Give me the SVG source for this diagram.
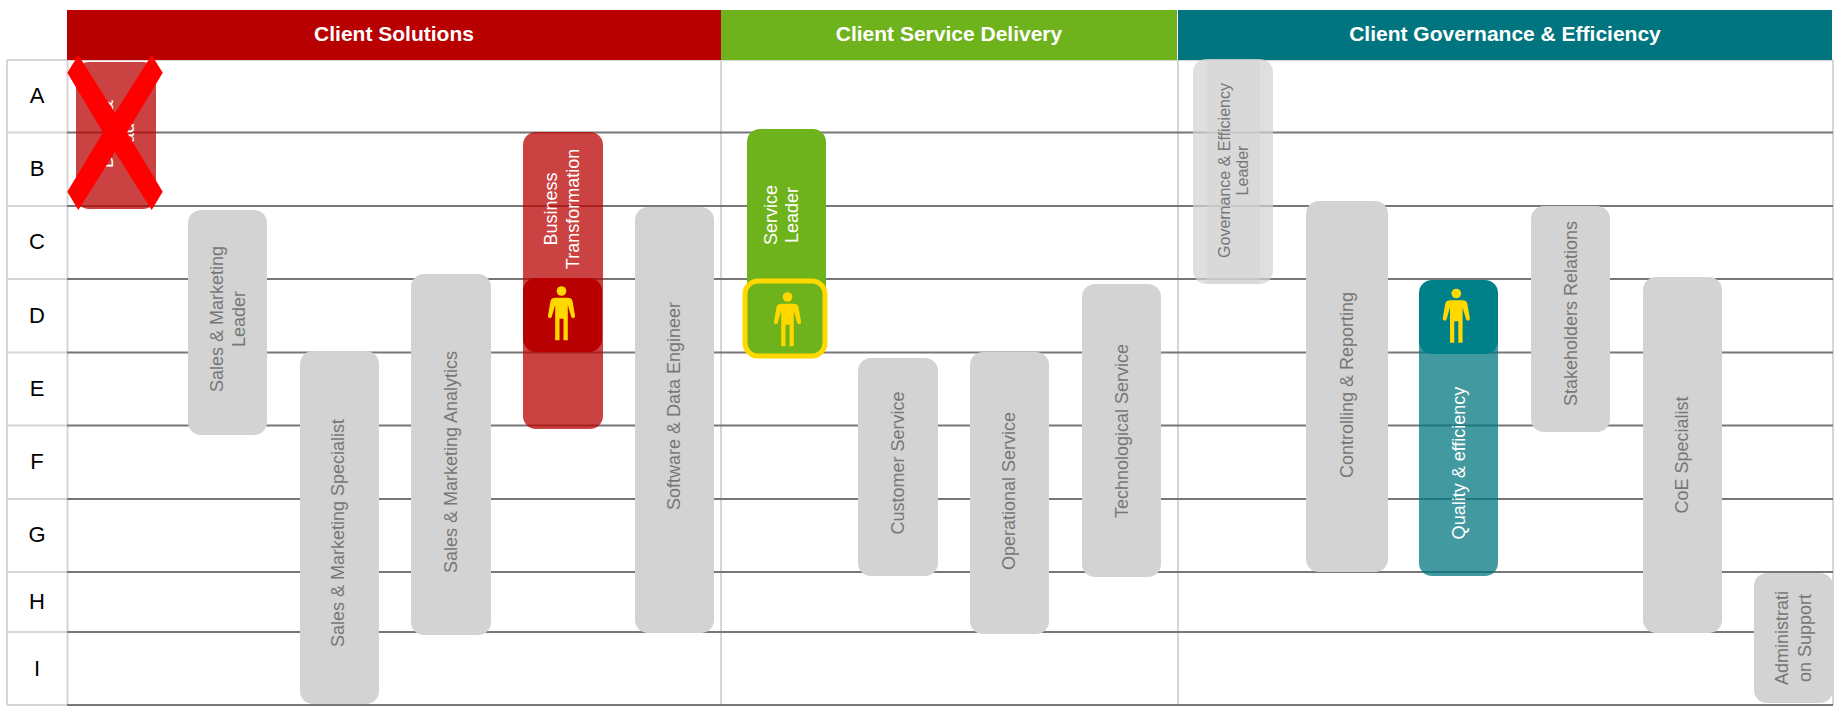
<svg xmlns="http://www.w3.org/2000/svg" width="1844" height="714" viewBox="0 0 1844 714">
<style>
text { font-family: "Liberation Sans", Arial, sans-serif; }
.head { fill: #fff; font-size: 21px; font-weight: 700; text-anchor: middle; }
.row { fill: #000; font-size: 22px; text-anchor: middle; }
.rule { stroke: #777; stroke-width: 2; }
.edge { stroke: #d6d6d6; stroke-width: 2; fill: none; }
.role { fill: #d3d3d3; }
.lbl { fill: #777; font-size: 18px; text-anchor: middle; }
.lblw { fill: #fff; font-size: 18px; text-anchor: middle; }
.fig { fill: #ffd800; }
</style>
<defs>
<g id="person">
<circle cx="0" cy="0" r="4.8"/>
<path d="M-6,6.7H6Q10,6.7 11,10L13.6,25a2,2 0 0 1-3.8,1L6.3,14V49.3H2V27.7H-2V49.3H-6.3V14L-9.8,26a2,2 0 0 1-3.8,-1L-11,10Q-10,6.7 -6,6.7Z"/>
</g>
</defs>
<rect width="1844" height="714" fill="#fff"/>

<g id="grid">
<path class="edge" d="M7 60H1833M7 132.5H67M7 206H67M7 279H67M7 352.5H67M7 425.5H67M7 499H67M7 572H67M7 632H67M7 705H67M7 60V705M67.5 60V705M721 60V705M1178 60V705M1833 60V705"/>
<path class="rule" d="M67 132.5H1833M67 206H1833M67 279H1833M67 352.5H1833M67 425.5H1833M67 499H1833M67 572H1833M67 632H1833M67 705H1833"/>
</g>

<g id="row-labels">
<text class="row" x="37" y="103">A</text>
<text class="row" x="37" y="176">B</text>
<text class="row" x="37" y="249">C</text>
<text class="row" x="37" y="323">D</text>
<text class="row" x="37" y="396">E</text>
<text class="row" x="37" y="469">F</text>
<text class="row" x="37" y="542">G</text>
<text class="row" x="37" y="609">H</text>
<text class="row" x="37" y="676">I</text>
</g>

<g id="header-solutions"><rect x="67" y="10" width="654" height="50" fill="#b80000"/><text class="head" x="394" y="41">Client Solutions</text></g>
<g id="header-delivery"><rect x="721" y="10" width="456" height="50" fill="#6eb21c"/><text class="head" x="949" y="41">Client Service Delivery</text></g>
<g id="header-governance"><rect x="1178" y="10" width="654" height="50" fill="#00757f"/><text class="head" x="1505" y="41">Client Governance &amp; Efficiency</text></g>

<g id="struck-leader">
<rect x="76" y="62" width="80" height="147" rx="13" fill="#b80000" fill-opacity=".74"/>
<text class="lblw" style="text-anchor:start" transform="translate(134 168) rotate(-90)" y="-21">D<tspan dx="43">&amp;</tspan></text>
<text class="lblw" transform="translate(115 135) rotate(-90)" y="19">Leader</text>
<polygon points="78.3,55 115,113 151.7,55 162.7,72.7 127,132.5 162.7,191.7 151.7,210 115,152 78.3,210 67.3,191.7 103,132.5 67.3,72.7" fill="#ff0000"/>
</g>
<g id="sales-marketing-leader"><rect class="role" x="188" y="210" width="79" height="225" rx="13"/><text class="lbl" transform="translate(228 319) rotate(-90)"><tspan x="0" y="-5">Sales &amp; Marketing</tspan><tspan x="0" y="17">Leader</tspan></text></g>
<g id="sales-marketing-specialist"><rect class="role" x="300" y="351" width="79" height="353" rx="13"/><text class="lbl" transform="translate(338 533) rotate(-90)" y="6">Sales &amp; Marketing Specialist</text></g>
<g id="sales-marketing-analytics"><rect class="role" x="411" y="274" width="80" height="361" rx="13"/><text class="lbl" transform="translate(451 462) rotate(-90)" y="6">Sales &amp; Marketing Analytics</text></g>
<g id="business-transformation">
<rect x="523" y="132" width="80" height="297" rx="13" fill="#b80000" fill-opacity=".74"/>
<text class="lblw" transform="translate(562 209) rotate(-90)"><tspan x="0" y="-5">Business</tspan><tspan x="0" y="17">Transformation</tspan></text>
<rect x="523" y="278" width="79" height="74" rx="13" fill="#b80000"/>
<use href="#person" class="fig" x="561.5" y="291"/>
</g>
<g id="software-data-engineer"><rect class="role" x="635" y="207" width="79" height="426" rx="13"/><text class="lbl" transform="translate(674 406) rotate(-90)" y="6">Software &amp; Data Engineer</text></g>

<g id="service-leader">
<rect x="747" y="129" width="79" height="200" rx="13" fill="#6eb21c"/>
<text class="lblw" transform="translate(781 215) rotate(-90)"><tspan x="0" y="-4">Service</tspan><tspan x="0" y="17">Leader</tspan></text>
<rect x="745" y="281" width="80" height="75" rx="13" fill="#6eb21c" stroke="#ffd800" stroke-width="5"/>
<use href="#person" class="fig" x="787.5" y="297"/>
</g>
<g id="customer-service"><rect class="role" x="858" y="358" width="80" height="218" rx="13"/><text class="lbl" transform="translate(898 463) rotate(-90)" y="6">Customer Service</text></g>
<g id="operational-service"><rect class="role" x="970" y="352" width="79" height="282" rx="13"/><text class="lbl" transform="translate(1009 491) rotate(-90)" y="6">Operational Service</text></g>
<g id="technological-service"><rect class="role" x="1082" y="284" width="79" height="293" rx="13"/><text class="lbl" transform="translate(1122 431) rotate(-90)" y="6">Technological Service</text></g>

<g id="governance-leader">
<rect x="1193" y="59" width="80" height="225" rx="13" fill="#d3d3d3" fill-opacity=".72"/>
<rect x="1207" y="59" width="53" height="225" fill="#d3d3d3" fill-opacity=".5"/>
<text class="lbl" style="font-size:16px" transform="translate(1233 170.5) rotate(-90)"><tspan x="0" y="-3">Governance &amp; Efficiency</tspan><tspan x="0" y="15">Leader</tspan></text>
</g>
<g id="controlling-reporting"><rect class="role" x="1306" y="201" width="82" height="371" rx="13"/><text class="lbl" transform="translate(1347 385) rotate(-90)" y="6">Controlling &amp; Reporting</text></g>
<g id="quality-efficiency">
<rect x="1419" y="300" width="79" height="276" rx="13" fill="#00757f" fill-opacity=".74"/>
<text class="lblw" transform="translate(1459 463) rotate(-90)" y="6">Quality &amp; efficiency</text>
<rect x="1419" y="280" width="79" height="74" rx="13" fill="#00818a"/>
<use href="#person" class="fig" x="1456.3" y="293.5"/>
</g>
<g id="stakeholders-relations"><rect class="role" x="1531" y="206" width="79" height="226" rx="13"/><text class="lbl" transform="translate(1571 313.5) rotate(-90)" y="6">Stakeholders Relations</text></g>
<g id="coe-specialist"><rect class="role" x="1643" y="277" width="79" height="356" rx="13"/><text class="lbl" transform="translate(1682 455) rotate(-90)" y="6">CoE Specialist</text></g>
<g id="administration-support"><rect class="role" x="1754" y="573" width="79" height="130" rx="13"/><text class="lbl" transform="translate(1793 638) rotate(-90)"><tspan x="0" y="-5">Administrati</tspan><tspan x="0" y="17.5">on Support</tspan></text></g>
</svg>
